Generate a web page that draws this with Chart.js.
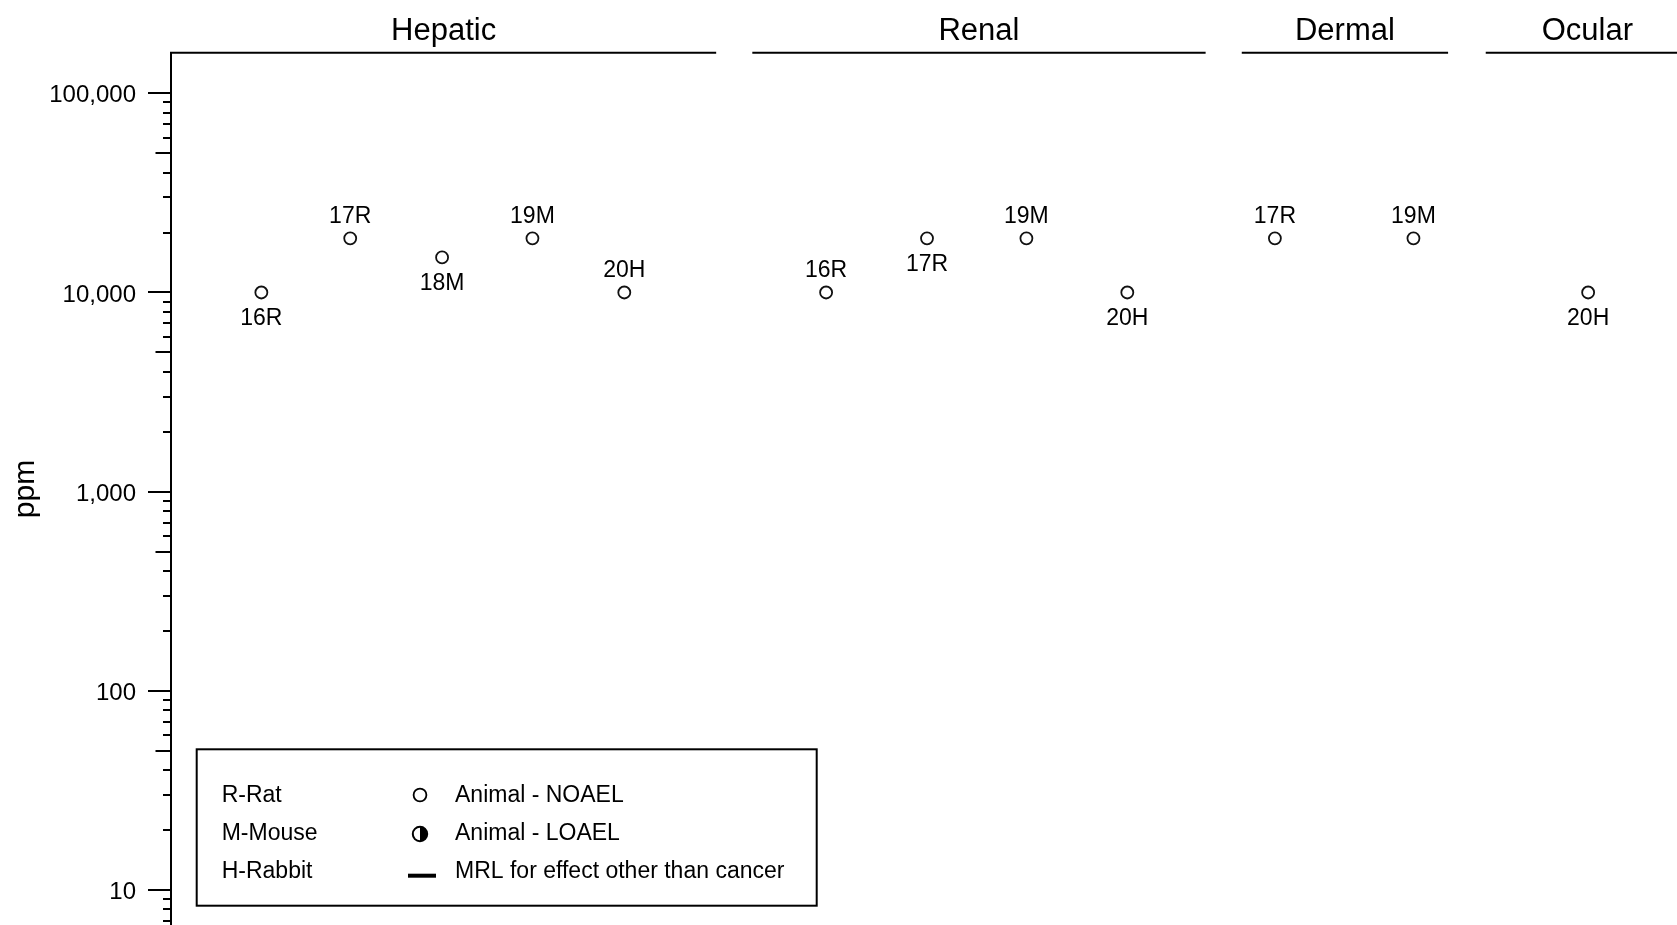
<!DOCTYPE html>
<html>
<head>
<meta charset="utf-8">
<title>Levels of significant exposure (ppm)</title>
<script src="https://cdn.jsdelivr.net/npm/chart.js@4.4.1/dist/chart.umd.min.js"></script>
<style>
  html, body { margin: 0; padding: 0; background: #ffffff; overflow: hidden; }
  #wrap { position: relative; width: 1677px; height: 925px; }
</style>
</head>
<body>
<div id="wrap"><canvas id="chart" width="1677" height="925"></canvas></div>
<script>
// Organ-system columns and their horizontal extent (x-axis units, 0-100)
const panelNames = ['Hepatic', 'Renal', 'Dermal', 'Ocular'];
const panelStart = [0, 38.6, 71.1, 87.3];
const panelEnd   = [36.2, 68.7, 84.8, 100.8];

// Studies: key (study number + species), exposure level in ppm, slot along x
const studyLabels = ['16R', '17R', '18M', '19M', '20H', '16R', '17R', '19M', '20H', '17R', '19M', '20H'];
const studyPpm    = [10000, 18700, 15000, 18700, 10000, 10000, 18700, 18700, 10000, 18700, 18700, 10000];
const studyPos    = [6.0, 11.9, 18.0, 24.0, 30.1, 43.5, 50.2, 56.8, 63.5, 73.3, 82.5, 94.1];

// Where each study key is written relative to its marker
const labelSide = ['below', 'above', 'below', 'above', 'above', 'above', 'below', 'above', 'below', 'above', 'above', 'below'];

// Labelled decades on the ppm axis
const yTickValues = [10, 100, 1000, 10000, 100000];

// Key box entries
const speciesKey = ['R-Rat', 'M-Mouse', 'H-Rabbit'];
const symbolKey  = ['Animal - NOAEL', 'Animal - LOAEL', 'MRL for effect other than cancer'];

const FONT = '"Liberation Sans", Arial, Helvetica, sans-serif';
const INK = '#000000';

const decorations = {
  id: 'decorations',
  afterDraw(chart) {
    const ctx = chart.ctx;
    const xs = chart.scales.x;
    const ys = chart.scales.y;
    const area = chart.chartArea;
    ctx.save();
    ctx.strokeStyle = INK;
    ctx.fillStyle = INK;
    ctx.lineCap = 'butt';

    // log tick marks: long at decades, medium at 5s, short elsewhere
    ctx.lineWidth = 2;
    for (let k = 0; k <= 6; k++) {
      for (let m = 1; m <= 9; m++) {
        const v = m * Math.pow(10, k);
        if (v < ys.min || v > ys.max) continue;
        const py = Math.round(ys.getPixelForValue(v));
        const len = m === 1 ? 23 : (m === 5 ? 15.5 : 8);
        ctx.beginPath();
        ctx.moveTo(area.left - len, py);
        ctx.lineTo(area.left, py);
        ctx.stroke();
      }
    }

    // column headers
    ctx.font = '31px ' + FONT;
    ctx.textAlign = 'center';
    ctx.textBaseline = 'alphabetic';
    panelNames.forEach((name, i) => {
      const x0 = panelStart[i] === 0 ? area.left - 1 : xs.getPixelForValue(panelStart[i]);
      const x1 = xs.getPixelForValue(panelEnd[i]);
      ctx.beginPath();
      ctx.lineWidth = 2;
      ctx.moveTo(x0, area.top - 0.3);
      ctx.lineTo(x1, area.top - 0.3);
      ctx.stroke();
      ctx.fillText(name, (xs.getPixelForValue(panelStart[i]) + x1) / 2, area.top - 13.5);
    });

    // study keys next to the markers
    const meta = chart.getDatasetMeta(0);
    ctx.font = '23px ' + FONT;
    ctx.textAlign = 'center';
    ctx.textBaseline = 'alphabetic';
    meta.data.forEach((pt, i) => {
      const dy = labelSide[i] === 'above' ? -15.5 : 32.5;
      ctx.fillText(studyLabels[i], pt.x, pt.y + dy);
    });

    // key box
    const bx = 196.7, by = 749.3, bw = 620, bh = 156.4;
    ctx.lineWidth = 2;
    ctx.strokeRect(bx, by, bw, bh);
    ctx.font = '23px ' + FONT;
    ctx.textAlign = 'left';
    const rows = [802.3, 840, 877.7];
    speciesKey.forEach((t, i) => ctx.fillText(t, 221.7, rows[i]));
    symbolKey.forEach((t, i) => ctx.fillText(t, 455, rows[i]));

    // open circle
    ctx.lineWidth = 1.8;
    ctx.beginPath();
    ctx.arc(420, 795, 6.4, 0, Math.PI * 2);
    ctx.fillStyle = '#ffffff';
    ctx.fill();
    ctx.stroke();
    // half-filled circle
    ctx.lineWidth = 2;
    ctx.beginPath();
    ctx.arc(420, 834, 7.2, 0, Math.PI * 2);
    ctx.fill();
    ctx.stroke();
    ctx.fillStyle = INK;
    ctx.beginPath();
    ctx.arc(420, 834, 7.2, -Math.PI / 2, Math.PI / 2);
    ctx.closePath();
    ctx.fill();
    // MRL bar
    ctx.fillRect(408, 873.7, 28, 4);

    ctx.restore();
  }
};

const points = studyPpm.map((v, i) => ({ x: studyPos[i], y: v }));

new Chart(document.getElementById('chart').getContext('2d'), {
  type: 'scatter',
  data: {
    datasets: [{
      data: points,
      pointStyle: 'circle',
      pointRadius: 6,
      pointHoverRadius: 6,
      pointBorderWidth: 1.8,
      pointBorderColor: '#111111',
      pointBackgroundColor: '#ffffff',
      showLine: false
    }]
  },
  options: {
    responsive: false,
    animation: false,
    events: [],
    layout: { autoPadding: false, padding: { top: 53, left: 0, right: 0, bottom: 0 } },
    plugins: {
      legend: { display: false },
      tooltip: { enabled: false }
    },
    scales: {
      x: { type: 'linear', min: 0, max: 100, display: false },
      y: {
        type: 'logarithmic',
        position: 'left',
        min: 6.67,
        max: 159400,
        afterFit(scale) {
          scale.width = 171;
          scale.paddingTop = 0;
          scale.paddingBottom = 0;
        },
        afterBuildTicks(scale) {
          scale.ticks = yTickValues.map(v => ({ value: v, major: true }));
        },
        grid: { display: true, drawOnChartArea: false, drawTicks: false },
        border: { display: true, color: INK, width: 2 },
        ticks: {
          autoSkip: false,
          maxRotation: 0,
          padding: 35,
          labelOffset: 2.5,
          color: INK,
          font: { family: FONT, size: 24 },
          callback: v => Number(v).toLocaleString('en-US')
        },
        title: {
          display: true,
          text: 'ppm',
          color: INK,
          font: { family: FONT, size: 30 },
          padding: { top: 8, bottom: 0 }
        }
      }
    }
  },
  plugins: [decorations]
});
</script>
</body>
</html>
